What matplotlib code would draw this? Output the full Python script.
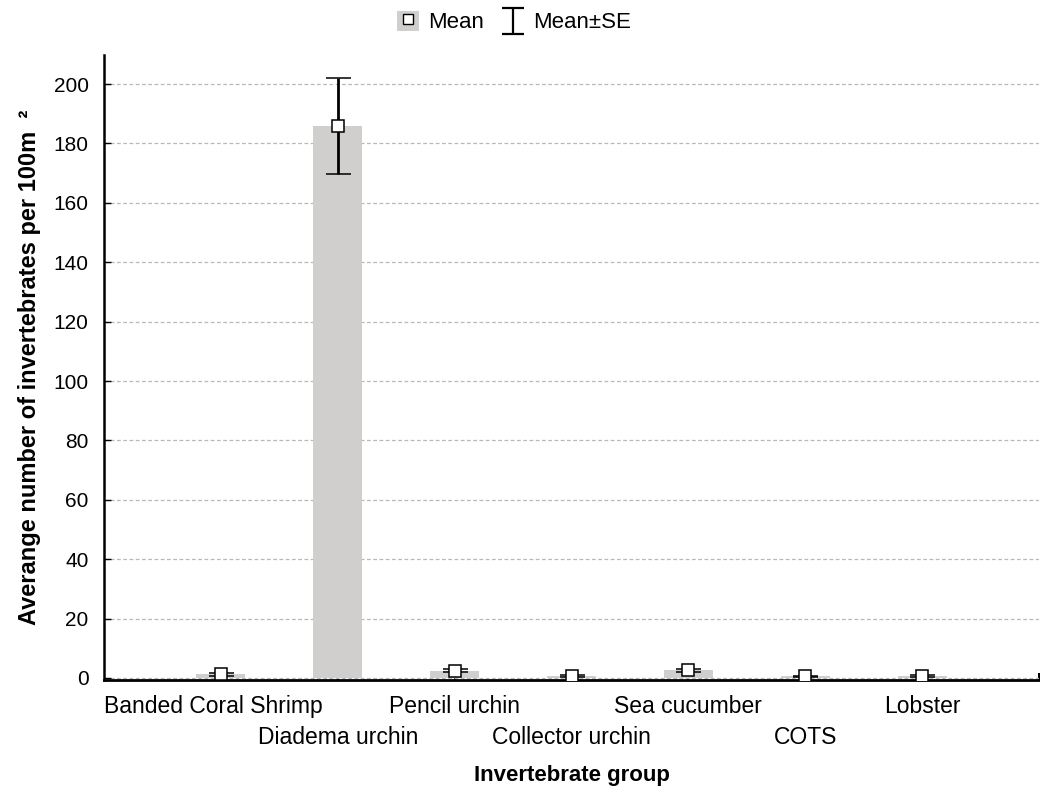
import matplotlib
matplotlib.use("Agg")
import matplotlib.pyplot as plt
from matplotlib.patches import Patch
from matplotlib.lines import Line2D
from matplotlib.legend_handler import HandlerTuple, HandlerBase
from matplotlib.transforms import ScaledTranslation

plt.rcParams['font.family'] = ['Liberation Sans', 'DejaVu Sans']

categories = ["Banded Coral Shrimp", "Diadema urchin", "Pencil urchin",
              "Collector urchin", "Sea cucumber", "COTS", "Lobster"]
means = [1.2, 186.0, 2.4, 0.6, 2.5, 0.5, 0.6]
se = [0.4, 16.2, 0.5, 0.3, 0.5, 0.3, 0.3]
yticks = [0, 20, 40, 60, 80, 100, 120, 140, 160, 180, 200]

FS = 15
CAT_FS = 16.5
BAR_COLOR = '#d0cfcd'

fig = plt.figure(figsize=(10.4, 7.96), dpi=100)
ax = fig.add_axes([104/1040, 1-680/796, (1039-104)/1040, (680-55)/796])

x = list(range(len(categories)))
ax.bar(x, means, width=0.42, color=BAR_COLOR, zorder=2)
ax.errorbar(x, means, yerr=se, fmt='s', mfc='white', mec='black', mew=1.1,
            ms=8.5, ecolor='black', elinewidth=2.0, capsize=9, capthick=2.0,
            zorder=3)

ax.set_xlim(-1, len(categories))
ax.set_ylim(-0.7, 209.8)
ax.set_yticks(yticks)
ax.set_yticklabels([str(v) for v in yticks], fontsize=FS)
ax.yaxis.grid(True, linestyle=(0, (3, 2)), color='#b8b8b8', linewidth=0.9)
ax.set_axisbelow(True)

even = [i for i in x if i % 2 == 0]
odd = [i for i in x if i % 2 == 1]
ax.set_xticks(even + [len(categories)])
ax.set_xticklabels([categories[i] for i in even] + [''], fontsize=CAT_FS)
ax.set_xticks(odd, minor=True)
ax.set_xticklabels([categories[i] for i in odd], minor=True, fontsize=CAT_FS)
ax.tick_params(axis='x', which='both', direction='in', length=5, width=1.5,
               color='black')
ax.tick_params(axis='x', which='major', pad=11)
ax.tick_params(axis='x', which='minor', pad=33)
ax.tick_params(axis='y', direction='in', length=5, width=1.0, pad=11)

# first label sits flush with the left end of the axis in the reference
first = ax.get_xticklabels()[0]
first.set_transform(first.get_transform() +
                    ScaledTranslation(-7/100, 0, fig.dpi_scale_trans))

for s in ['top', 'right']:
    ax.spines[s].set_visible(False)
ax.spines['left'].set_linewidth(1.8)
ax.spines['bottom'].set_linewidth(2.0)

ax.set_ylabel("Averange number of invertebrates per 100m  ²", fontsize=17,
              fontweight='bold', labelpad=9)
fig.text(572/1040, 1-775/796, "Invertebrate group", fontsize=16,
         fontweight='bold', ha='center', va='center')


class HandlerIBar(HandlerBase):
    def create_artists(self, legend, orig_handle, xdescent, ydescent,
                       width, height, fontsize, trans):
        cx = width / 2 - xdescent
        y0 = -ydescent - 0.15 * height
        y1 = -ydescent + 1.15 * height
        hw = width * 0.5
        kw = dict(color='black', lw=1.6, transform=trans,
                  solid_capstyle='butt')
        return [Line2D([cx, cx], [y0, y1], **kw),
                Line2D([cx - hw, cx + hw], [y0, y0], **kw),
                Line2D([cx - hw, cx + hw], [y1, y1], **kw)]


mean_handle = (Patch(facecolor=BAR_COLOR, edgecolor='none'),
               Line2D([], [], marker='s', mfc='white', mec='black', mew=1.0,
                      ms=7, ls='none'))
se_handle = Line2D([], [], color='black')
fig.legend([mean_handle, se_handle], ["Mean", "Mean±SE"], ncol=2,
           frameon=False, loc='center', bbox_to_anchor=(514/1040, 1-22/796),
           fontsize=16, handlelength=1.0, handleheight=1.0,
           handletextpad=0.4, columnspacing=0.8,
           handler_map={tuple: HandlerTuple(ndivide=1),
                        se_handle: HandlerIBar()})

fig.savefig("out.png", dpi=100)
